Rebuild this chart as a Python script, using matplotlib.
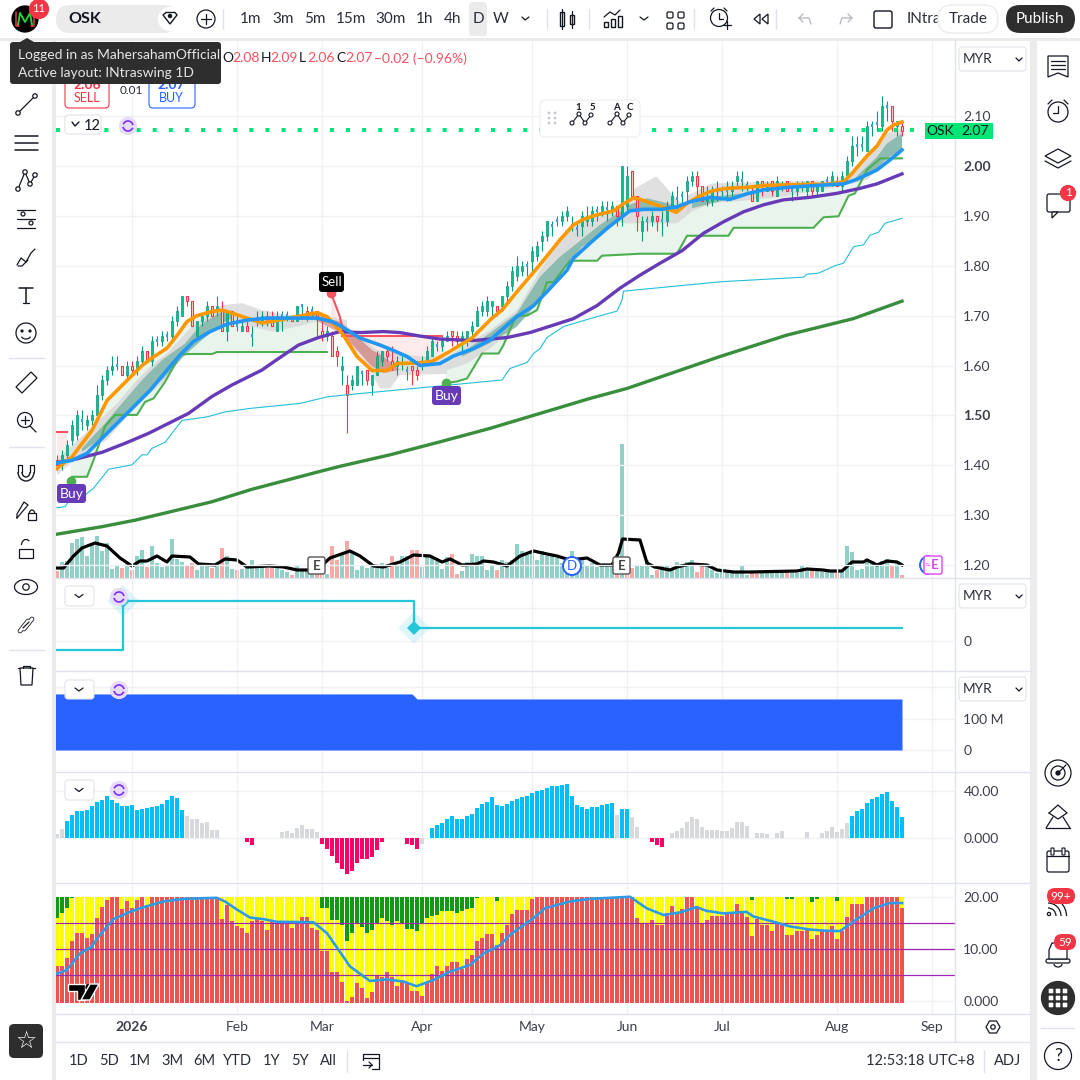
import matplotlib
matplotlib.use("Agg")
import matplotlib.pyplot as plt
from matplotlib.patches import FancyBboxPatch, Circle, Rectangle, Polygon, Arc
import numpy as np

plt.rcParams['font.family'] = ['Lato', 'DejaVu Sans']

# daily candles
opens = [1.41,1.40,1.42,1.45,1.46,1.49,1.48,1.49,1.50,1.54,
         1.57,1.59,1.60,1.60,1.58,1.60,1.59,1.61,1.63,1.61,
         1.65,1.65,1.66,1.66,1.69,1.70,1.74,1.73,1.66,1.69,
         1.70,1.72,1.71,1.71,1.67,1.71,1.68,1.67,1.68,1.66,
         1.69,1.69,1.70,1.69,1.67,1.70,1.70,1.70,1.69,1.72,
         1.71,1.71,1.71,1.67,1.66,1.66,1.63,1.59,1.56,1.56,
         1.56,1.585,1.59,1.56,1.58,1.61,1.63,1.61,1.60,1.605,
         1.59,1.60,1.59,1.60,1.61,1.62,1.64,1.64,1.65,1.67,
         1.66,1.65,1.65,1.67,1.68,1.71,1.71,1.72,1.72,1.72,
         1.74,1.76,1.78,1.79,1.80,1.81,1.82,1.85,1.86,1.88,
         1.89,1.89,1.90,1.88,1.875,1.88,1.89,1.89,1.91,1.91,
         1.915,1.91,1.92,1.90,1.92,1.99,1.94,1.87,1.89,1.89,
         1.90,1.89,1.89,1.91,1.935,1.94,1.95,1.97,1.98,1.96,
         1.93,1.93,1.95,1.95,1.95,1.95,1.97,1.97,1.96,1.95,
         1.93,1.97,1.95,1.97,1.94,1.96,1.97,1.95,1.95,1.96,
         1.95,1.97,1.95,1.95,1.97,1.97,1.97,1.96,1.98,2.01,
         2.04,2.04,2.03,2.08,2.085,2.08,2.12,2.12,2.08,2.08]
closes = [1.40,1.42,1.44,1.48,1.50,1.49,1.49,1.50,1.54,1.57,
          1.59,1.60,1.60,1.58,1.60,1.59,1.61,1.63,1.61,1.65,
          1.65,1.66,1.66,1.69,1.71,1.74,1.73,1.68,1.69,1.70,
          1.72,1.70,1.72,1.67,1.71,1.68,1.68,1.68,1.67,1.66,
          1.69,1.70,1.69,1.68,1.70,1.70,1.70,1.69,1.72,1.72,
          1.70,1.71,1.70,1.66,1.67,1.62,1.62,1.60,1.54,1.57,
          1.60,1.585,1.57,1.58,1.62,1.63,1.62,1.60,1.61,1.605,
          1.59,1.59,1.58,1.61,1.63,1.65,1.64,1.65,1.66,1.66,
          1.65,1.66,1.67,1.68,1.71,1.72,1.73,1.73,1.71,1.74,
          1.76,1.79,1.80,1.80,1.80,1.83,1.84,1.86,1.89,1.88,
          1.89,1.90,1.91,1.88,1.875,1.90,1.90,1.91,1.91,1.92,
          1.915,1.92,1.90,2.00,1.98,1.94,1.90,1.89,1.89,1.90,
          1.89,1.89,1.92,1.94,1.935,1.94,1.97,1.98,1.96,1.93,
          1.94,1.95,1.95,1.95,1.95,1.96,1.98,1.97,1.96,1.93,
          1.97,1.96,1.96,1.95,1.97,1.96,1.95,1.95,1.96,1.96,
          1.97,1.95,1.96,1.97,1.97,1.98,1.96,1.98,2.01,2.04,
          2.04,2.04,2.08,2.08,2.085,2.12,2.12,2.09,2.09,2.07]
highs = [1.42,1.43,1.45,1.49,1.51,1.51,1.50,1.51,1.56,1.58,
         1.60,1.62,1.62,1.60,1.61,1.61,1.62,1.64,1.63,1.66,
         1.66,1.67,1.67,1.70,1.72,1.74,1.74,1.73,1.69,1.70,
         1.73,1.72,1.74,1.73,1.71,1.71,1.70,1.69,1.69,1.68,
         1.71,1.71,1.71,1.71,1.71,1.71,1.71,1.70,1.72,1.72,
         1.72,1.72,1.71,1.70,1.68,1.67,1.64,1.62,1.58,1.58,
         1.60,1.59,1.59,1.58,1.63,1.63,1.64,1.64,1.62,1.62,
         1.60,1.60,1.60,1.62,1.64,1.66,1.65,1.66,1.67,1.67,
         1.67,1.67,1.67,1.69,1.72,1.73,1.74,1.73,1.72,1.74,
         1.77,1.80,1.82,1.81,1.81,1.84,1.85,1.87,1.89,1.89,
         1.90,1.91,1.92,1.90,1.89,1.91,1.92,1.92,1.92,1.93,
         1.93,1.93,1.92,2.00,2.00,1.99,1.94,1.90,1.90,1.91,
         1.90,1.91,1.93,1.95,1.96,1.95,1.98,1.99,1.99,1.96,
         1.96,1.96,1.97,1.96,1.97,1.97,1.99,1.99,1.97,1.96,
         1.97,1.97,1.97,1.97,1.98,1.97,1.97,1.96,1.97,1.97,
         1.97,1.97,1.96,1.97,1.98,1.99,1.98,1.99,2.02,2.06,
         2.06,2.06,2.09,2.09,2.11,2.14,2.13,2.12,2.09,2.09]
lows = [1.39,1.39,1.41,1.44,1.45,1.47,1.47,1.48,1.50,1.53,
        1.56,1.58,1.59,1.58,1.57,1.58,1.58,1.60,1.61,1.60,
        1.64,1.64,1.65,1.65,1.68,1.70,1.72,1.68,1.66,1.68,
        1.69,1.70,1.70,1.67,1.65,1.68,1.67,1.67,1.67,1.64,
        1.68,1.68,1.68,1.68,1.67,1.67,1.69,1.69,1.69,1.70,
        1.69,1.70,1.66,1.65,1.65,1.62,1.60,1.56,1.465,1.55,
        1.56,1.56,1.56,1.54,1.58,1.60,1.61,1.59,1.58,1.59,
        1.57,1.56,1.57,1.59,1.61,1.62,1.63,1.63,1.65,1.64,
        1.64,1.63,1.64,1.66,1.68,1.70,1.70,1.70,1.70,1.71,
        1.73,1.75,1.77,1.78,1.78,1.79,1.81,1.83,1.85,1.86,
        1.88,1.88,1.89,1.87,1.86,1.86,1.88,1.88,1.89,1.90,
        1.89,1.90,1.88,1.88,1.91,1.94,1.87,1.85,1.87,1.88,
        1.87,1.86,1.88,1.91,1.91,1.92,1.93,1.96,1.94,1.93,
        1.92,1.92,1.93,1.94,1.93,1.94,1.96,1.95,1.95,1.93,
        1.93,1.94,1.95,1.94,1.94,1.95,1.95,1.93,1.94,1.95,
        1.94,1.94,1.94,1.95,1.96,1.96,1.96,1.95,1.97,2.00,
        2.02,2.03,2.03,2.06,2.07,2.07,2.09,2.07,2.06,2.06]

volumes = [7,16,17,35,39,41,22,33,42,27,35,9,13,10,15,8,22,28,11,32,
           15,11,13,39,19,16,13,15,8,12,13,10,14,30,22,9,8,9,10,18,
           11,11,10,12,10,8,6,3,13,8,7,5,5,5,4,32,18,24,37,25,
           8,12,10,12,13,15,10,22,12,22,22,28,28,11,21,21,17,9,21,24,
           4,7,16,24,22,22,8,12,8,18,16,18,34,27,23,28,18,27,22,22,
           20,15,8,27,17,20,13,15,11,12,12,12,8,134,7,10,12,13,18,3,
           8,12,12,8,16,12,16,18,6,14,12,8,5,7,7,5,7,12,3,5,
           7,6,8,5,7,6,6,5,5,12,7,8,8,6,7,8,6,8,32,26,
           8,9,19,17,12,17,19,13,14,3]
vol_down = [0,13,15,18,26,27,31,33,36,42,43,47,52,53,55,56,58,67,71,72,79,80,88,
            112,114,115,120,128,129,139,140,146,151,156,167,169]
vol_ma_x = [0,1.3,3.3,5,7.6,10,12.6,15,16.6,18,20,22,23,26.6,28.3,31.6,33.6,36,38,42.6,
            45.3,48,50,52,54.6,58.6,60.6,63.3,65.3,68.6,71.3,74.6,77,78.6,81,84,85.3,87.3,
            90,92.6,95.3,98,100,102.6,106,108.6,111,112.3,113.1,116.6,118,119.5,122.6,124,
            126.6,130,132,135.3,138.6,148,150,153.2,154.6,157,159,161.3,162,164,166,168,169]
vol_ma_y = [10,10,22,30,35,32,20,12,17,17,22,16,22,21,14,13,19,18,11,12,
            11,8,8,8,20,27,22,12,11,16,23,22,16,19,13,14,17,16,
            12,22,27,24,22,18,20,13,13,25,39,38,15,11,8,11,
            14,13,8,6,6,7,9,8,7,7,16,16,18,13,17,16,13]

# moving averages, vertices as (bar, price)
orange_x = [0,3,7,10,12,15,17,19,22,24,26,28,31,33,35,38,41,45,49,52,54,57,60,63,66,68,72,75,78,
            83,87,89,92,96,97.3,100.6,103.3,105.3,108,111.3,113.3,115.3,116.6,121,123.9,126,128.6,
            131,134,138,142,146,150,154,157.3,159,162,164,166,167.3,169]
orange_y = [1.394,1.417,1.47,1.53,1.55,1.58,1.60,1.615,1.635,1.66,1.688,1.70,1.708,1.711,1.705,1.695,
            1.685,1.692,1.70,1.706,1.698,1.665,1.618,1.59,1.59,1.604,1.605,1.608,1.625,
            1.655,1.695,1.711,1.748,1.795,1.811,1.852,1.882,1.893,1.902,1.91,1.924,1.936,1.933,1.918,1.907,
            1.925,1.94,1.95,1.955,1.957,1.961,1.962,1.963,1.963,1.968,1.985,2.02,2.04,2.072,2.082,2.088]
blue_x = [0,3,6,9.3,12.6,16,18.6,22,24.6,27.3,30.6,34,38,42,52,55,56.6,60.6,64.6,67.3,70,72.6,76.6,
          79.3,83.3,86.6,92,95.3,98,102,103.3,106.6,110,112.6,114.6,117.3,121,124,126.6,130.6,134.6,
          138,141.3,146,150.6,157.3,160,164,166.6,169]
blue_y = [1.405,1.41,1.424,1.457,1.49,1.524,1.55,1.591,1.621,1.648,1.668,1.683,1.691,1.695,1.695,1.688,
          1.68,1.655,1.641,1.63,1.618,1.60,1.604,1.619,1.634,1.651,1.698,1.72,1.748,1.791,1.815,1.845,
          1.875,1.895,1.91,1.913,1.913,1.918,1.928,1.937,1.933,1.944,1.952,1.957,1.96,1.964,1.973,
          1.992,2.012,2.032]
purple_x = [0,4,9,13.6,18.3,22.3,26.3,31,35,41,44.3,48.3,52.3,56.6,60.6,65.3,68.6,72.6,76.6,83.3,90,
            94.6,99.3,103.3,108,112.6,116.6,120.6,125,129.3,133.3,137.3,141.3,145.3,150.6,156,160.6,164,169]
purple_y = [1.405,1.413,1.426,1.444,1.464,1.484,1.504,1.538,1.561,1.591,1.614,1.641,1.656,1.668,1.666,
            1.668,1.666,1.659,1.653,1.65,1.656,1.666,1.681,1.694,1.72,1.755,1.781,1.805,1.83,1.865,
            1.888,1.908,1.922,1.932,1.937,1.945,1.955,1.964,1.984]
ma200_x = [0,9,15.6,22.3,31,39,47,52.3,56.6,66.6,76.6,86.6,96.6,106.6,114,132.6,146,159.3,169]
ma200_y = [1.262,1.277,1.29,1.306,1.327,1.352,1.373,1.387,1.398,1.421,1.447,1.474,1.504,1.534,1.554,
           1.618,1.661,1.694,1.729]
trail_x = [0,1.6,3,5.3,7.3,10.3,15,17,18,19,21.6,25,30,33.6,38.6,48.6,54,56.6,76.6,89,90.6,94,95.3,
           96.6,98,101.3,108,112,113,113.3,133,149.3,150,152.3,155.6,157.3,159.3,161.3,162.6,164.3,165.6,169]
trail_y = [1.315,1.317,1.337,1.338,1.354,1.392,1.401,1.421,1.421,1.434,1.446,1.49,1.497,1.507,1.514,
           1.524,1.537,1.54,1.559,1.571,1.594,1.606,1.624,1.634,1.656,1.678,1.698,1.709,1.731,1.749,
           1.768,1.777,1.783,1.785,1.80,1.805,1.838,1.842,1.861,1.867,1.885,1.895]

# supertrend style stop, two bullish runs
stop1_x = [2.6,3,6,7.3,9.6,11.6,16,17.6,19.3,21.6,24.6,26,31,32,54]
stop1_y = [1.37,1.377,1.377,1.41,1.478,1.501,1.501,1.527,1.534,1.567,1.621,1.623,1.623,1.627,1.627]
stop2_x = [77.8,80,82,85,88.3,89.3,91.3,92,94,96,98,99.3,102.6,108,109,116.6,124,126,134.3,135.3,151.3,
           153.3,156.3,158.3,159.6,162,164.7,169]
stop2_y = [1.565,1.568,1.574,1.624,1.624,1.641,1.688,1.70,1.70,1.711,1.767,1.767,1.81,1.81,1.82,1.824,
           1.824,1.86,1.86,1.876,1.876,1.897,1.899,1.94,1.945,1.992,2.015,2.015]
stop_red_x = [57,77]
stop_red_y = [1.66,1.66]
stop_red0_x = [0,2]
stop_red0_y = [1.467,1.467]
sell_x = [54.8,56.5,57.5]
sell_y = [1.745,1.70,1.66]

# cloud bands, (bars, upper, bars, lower)
grey_bands = [
    ([0,7,12,16,19,22,27,33,37,41,46,52,58], [1.411,1.477,1.524,1.571,1.601,1.624,1.678,1.721,1.725,1.711,1.701,1.704,1.691],
     [0,5,10,14,17,21,26,30,34,39,43,48,53,58], [1.38,1.424,1.451,1.497,1.531,1.564,1.628,1.671,1.691,1.678,1.668,1.678,1.691,1.66]),
    ([56.6,60.6,64,72.6,78], [1.69,1.658,1.631,1.618,1.618],
     [56.6,60.6,64.6,66.6,68.6,78], [1.678,1.624,1.554,1.554,1.581,1.583]),
    ([78,86.6,92,99,102.6,106,110,113.6,115.6,119.6,120,124,126.6], [1.618,1.671,1.711,1.831,1.872,1.892,1.908,1.918,1.955,1.978,1.978,1.932,1.92],
     [78,82,86.6,91.3,96,100,103.3,105.3,109.3,112.6,113,121,124,126.6], [1.591,1.604,1.634,1.674,1.724,1.778,1.818,1.838,1.872,1.888,1.885,1.885,1.885,1.905]),
    ([126,131,157], [1.94,1.965,1.972], [126,131,137,145,157], [1.905,1.925,1.93,1.938,1.96]),
    ([157,162,166,169], [1.965,2.025,2.065,2.075], [157,162,165.3,169], [1.96,1.972,2.005,2.035]),
]
teal_bands = [
    ([5,9.6,13,17,21,25.6,29,33,35], [1.434,1.484,1.524,1.571,1.611,1.644,1.684,1.708,1.71],
     [5,9.6,13,17,21,25.6,29,33,35], [1.427,1.46,1.49,1.538,1.571,1.621,1.651,1.684,1.695]),
    ([81,86.6,92,96.6,100.6,104,108.6,113], [1.625,1.665,1.705,1.778,1.818,1.845,1.882,1.91],
     [81,86.6,92,96.6,100.6,105,108.6,113], [1.618,1.645,1.678,1.731,1.785,1.838,1.858,1.895]),
    ([114,118,121,124], [1.92,1.935,1.928,1.92], [114,118,124], [1.91,1.912,1.91]),
    ([127,133,137], [1.925,1.94,1.945], [127,133,137], [1.915,1.93,1.94]),
    ([159,164,166,169], [1.97,2.018,2.045,2.065], [159,164,166,169], [1.968,1.995,2.015,2.033]),
]
red_band = ([50,56.6,60,63,65.3], [1.705,1.688,1.658,1.631,1.618],
            [50,56.6,60,63,65.3,68.6], [1.70,1.665,1.631,1.598,1.585,1.591])

hist_values = [3.7,8,14.2,19.3,22.7,22.7,23.5,27,30.6,32.6,
               35.7,32,30,27,27,28.4,23.5,24.4,25.5,26.4,
               27,29,32,35.5,34.3,23.5,18.4,15.9,15.9,12.8,
               13.6,6.5,6.5,0,0,0,0,0,-3.4,-6.2,
               0,0,0,0,0,5.1,5.7,4,8.5,10.8,
               7.4,7.4,5.1,-4.8,-9.6,-15.6,-21.3,-26,-31,-28.4,
               -21.3,-18.2,-17.6,-16.2,-10.5,-3.4,0,0,0,0,
               -4.8,-6.2,-9.6,-4.8,0,8.8,10.8,13,15.9,18.4,
               15.9,16.5,18.4,20.7,25.8,29,31,34.6,27.8,27,
               28.6,31.2,33,34.6,35.5,38,39.7,40.6,42.3,44,
               44,44.8,45.7,35.5,27.8,26,25,26,26,27.8,
               28.6,29.5,20,25,24.4,17.6,9,0,0,-3.7,
               -6.2,-8,0,4,5.7,8.2,13.3,17.6,15.9,9,
               6.5,6.5,6.5,5.7,5.7,8.2,13.3,13.3,9.9,0,
               4,4,3.1,0,4,5.7,0,0,0,0,
               4.8,0,0,4,5.7,9,4.8,7.4,12.5,18.4,
               22.7,25,29.5,33,34.6,37.2,38.9,31.2,26,17.6]
hist_kind = ("gg" + "b"*24 + "g"*7 + "g"*5 + "rr" + "g"*5 + "g"*8 + "r"*13 + "g"*4 + "rrr" + "gg"
             + "b"*37 + "g" + "bb" + "gg" + "gg" + "rrr" + "g" + "g"*36 + "b"*11)

stack_red = [6.7,6.7,8.4,11.6,13.1,13.1,12.2,12.9,16.0,18.1,
             19.5,20.1,20.1,17.8,19.2,18.0,19.5,20.1,18.5,20.1,
             20.1,20.1,20.1,20.1,20.1,20.1,20.1,20.1,20.1,20.1,
             20.1,20.1,20.1,15.8,18.5,15.4,14.5,14.0,13.1,15.4,
             16.0,15.4,13.7,15.4,15.4,15.4,15.4,14.0,15.4,16.2,
             16.2,14.0,13.7,9.6,9.6,5.7,5.7,3.7,0.0,0.9,
             3.5,2.5,0.7,1.7,5.1,4.6,5.7,4.6,3.0,3.7,
             3.7,2.0,2.0,1.1,3.7,5.3,6.8,5.8,6.7,7.6,
             7.6,6.3,8.1,8.9,11.5,12.2,12.9,12.9,10.8,13.1,
             14.7,16.8,17.6,17.6,17.6,19.7,20.1,20.1,20.1,20.1,
             20.1,20.1,20.1,20.1,20.1,20.1,20.1,20.1,20.1,20.1,
             20.1,20.1,20.1,20.1,20.1,20.1,16.0,15.0,15.0,15.6,
             14.7,14.7,16.9,18.3,16.9,17.8,20.1,20.1,18.3,15.0,
             15.6,16.4,16.4,16.4,16.9,17.1,18.7,17.2,16.2,12.6,
             15.8,14.7,14.7,13.5,15.0,15.0,12.8,12.8,13.5,13.5,
             14.0,12.0,12.8,13.5,13.5,14.5,12.0,13.5,16.2,18.7,
             18.7,18.7,20.1,20.1,20.1,20.1,20.1,20.1,20.1,17.9]
stack_green_bar = [0,1,2,3,53,54,55,56,57,58,59,60,61,62,63,64,65,66,67,68,69,70,71,72,73,74,75,76,77,78,79,
                   80,81,82,83,84,88,139,146,147,151,152,156]
stack_green_low = [16.0,16.9,17.9,19.9,17.9,17.9,15.6,15.6,14.6,11.6,13.2,14.9,14.2,13.2,13.7,15.0,16.0,15.4,
                   14.6,15.4,15.0,14.0,14.0,13.6,15.0,16.0,16.5,16.6,17.4,17.4,17.4,16.9,17.4,17.7,17.9,19.8,
                   19.3,19.5,19.7,19.7,19.1,19.7,19.3]
stack_line_x = [0,1.9,4.6,6.9,8.6,11.3,14.6,17.3,21.3,25.3,31.9,33.6,35.9,38.6,41.3,43.9,51.3,54,56.3,58.6,
                62.6,65.9,69.3,71.9,75.3,78.6,82.6,85.3,88.6,90.6,95.3,97.6,102.6,106.6,114.6,117.9,121.3,
                124.6,127.9,129.9,133.3,137.9,139.3,143.3,146.6,150.6,153.3,156.6,160,163.3,166.6,169]
stack_line_y = [5.3,6.0,9.2,10.5,12.8,15.8,17.2,18.1,19.2,19.7,19.9,19.2,17.7,16.1,15.8,15.3,15.2,13.1,9.9,6.7,
                3.9,4.2,3.8,2.9,4.1,5.7,7.0,9.2,10.8,12.8,16.0,17.9,19.2,19.7,20.1,17.9,16.6,
                17.1,18.1,17.4,16.9,17.2,16.3,15.3,14.4,13.8,13.6,13.5,15.8,17.9,18.9,18.9]
pivot_x = [-0.5,13.2,13.2,71.4,71.4,169]
pivot_y = [-1,-1,4.44,4.44,1.44,1.44]
float_x = [-0.5,71,72,169]
float_m = [178,178,162,162]

price_ticks = [1.20,1.30,1.40,1.50,1.60,1.70,1.80,1.90,2.00,2.10]
month_bars = [15,36,53,73,95,114,133,156,175]
month_names = ['2026','Feb','Mar','Apr','May','Jun','Jul','Aug','Sep']

GRID = '#f0f1f5'
LINE = '#e0e3eb'
TXT = '#131722'
UP = '#00c389'
UPE = '#089981'
DN = '#f23645'

fig = plt.figure(figsize=(10.8, 10.8), dpi=100, facecolor='white')

def pane(y0, y1, ylim):
    a = fig.add_axes([56/1080, 1-y1/1080, (955-56)/1080, (y1-y0)/1080])
    a.set_xlim(-0.2, 179.6)
    a.set_ylim(*ylim)
    a.set_xticks(month_bars)
    a.set_xticklabels([])
    a.grid(True, color=GRID, lw=1)
    a.set_axisbelow(True)
    a.tick_params(length=0, labelsize=10, labelcolor='#3c3f4a', pad=6)
    a.yaxis.tick_right()
    for s in a.spines.values():
        s.set_visible(False)
    return a

# main pane
vax = pane(40, 578, (0, 538))
vax.set_yticks([])
vax.grid(False)
ax = pane(40, 578, (2.10-(578-116)/499, 2.10-(40-116)/499))
ax.patch.set_visible(False)
ax.set_yticks(price_ticks)
ax.set_yticklabels(['%.2f' % p for p in price_ticks])
for lab, p in zip(ax.get_yticklabels(), price_ticks):
    if p in (1.50, 2.00):
        lab.set_fontweight('bold')

bars = np.arange(len(closes))
vol_col = ['#f7a9a7' if i in vol_down else '#92d0c7' for i in bars]
vax.bar(bars, volumes, width=0.8, color=vol_col, lw=0)
vax.plot(vol_ma_x, vol_ma_y, color='black', lw=2.3, zorder=5)

def band(a, xu, yu, xl, yl, color, alpha=1.0, z=1):
    a.fill(list(xu)+list(xl)[::-1], list(yu)+list(yl)[::-1], color=color, alpha=alpha, lw=0, zorder=z)

cut1 = [i for i, x in enumerate(orange_x) if x <= 54]
cut2 = [i for i, x in enumerate(orange_x) if x >= 78]
band(ax, [orange_x[i] for i in cut1 if orange_x[i] >= 3], [orange_y[i] for i in cut1 if orange_x[i] >= 3],
     stop1_x, stop1_y, '#e9f4ec')
band(ax, [orange_x[i] for i in cut2], [orange_y[i] for i in cut2], stop2_x, stop2_y, '#e9f4ec')
mid = [i for i, x in enumerate(orange_x) if 57 <= x <= 78]
band(ax, stop_red_x, stop_red_y, [orange_x[i] for i in mid], [orange_y[i] for i in mid], '#fdeaea')
band(ax, [54.8, 57], [1.745, 1.66], [54.8, 57], [1.70, 1.665], '#fdeaea')
band(ax, stop_red0_x, stop_red0_y, [0, 2], [1.39, 1.41], '#fdeaea')
for xu, yu, xl, yl in grey_bands:
    band(ax, xu, yu, xl, yl, '#d5d5d5', 0.72, 2)
for xu, yu, xl, yl in teal_bands:
    band(ax, xu, yu, xl, yl, '#6fae9f', 0.72, 3)
band(ax, *red_band, '#cf6f6a', 0.6, 3)

# candles
for i in bars:
    o, h, l, c = opens[i], highs[i], lows[i], closes[i]
    if o == c:
        ax.vlines(i, l, h, color=UPE, lw=0.8, zorder=4)
        ax.bar(i, 0.006, bottom=o-0.003, width=0.55, color='#3d9fd3', lw=0, zorder=4)
    elif c > o:
        ax.vlines(i, l, h, color=UPE, lw=0.8, zorder=4)
        ax.bar(i, c-o, bottom=o, width=0.55, color=UP, edgecolor=UPE, lw=0.5, zorder=4)
    else:
        ax.vlines(i, l, h, color=DN, lw=0.8, zorder=4)
        ax.bar(i, o-c, bottom=c, width=0.55, color='#fbd5d3', edgecolor=DN, lw=0.8, zorder=4)

ax.plot([-0.2, 173.6], [2.072, 2.072], color='#00e676', lw=2.9, ls=(0, (1, 3)), zorder=5)
ax.plot(stop1_x, stop1_y, color='#4caf50', lw=1.5, zorder=6)
ax.plot(stop2_x, stop2_y, color='#4caf50', lw=1.5, zorder=6)
ax.plot(stop_red_x, stop_red_y, color='#f7525f', lw=1.5, zorder=6)
ax.plot(stop_red0_x, stop_red0_y, color='#f7525f', lw=1.5, zorder=6)
ax.plot(sell_x, sell_y, color='#f7525f', lw=1.5, zorder=6)
ax.plot(trail_x, trail_y, color='#22c0d8', lw=0.8, zorder=6)
ax.plot(ma200_x, ma200_y, color='#388e3c', lw=2.4, zorder=6)
ax.plot(purple_x, purple_y, color='#673ab7', lw=2.4, zorder=7)
ax.plot(orange_x, orange_y, color='#ff9800', lw=2.6, zorder=8)
ax.plot(blue_x, blue_y, color='#2196f3', lw=2.6, zorder=9)
ax.plot([2.8, 77.8], [1.368, 1.565], ls='none', marker='o', ms=6, color='#4caf50', zorder=10)
ax.plot([54.8], [1.745], ls='none', marker='o', ms=6, color='#f7525f', zorder=10)

# pivot pane
p2 = pane(579, 671, (-30/9, 62/9))
p2.set_yticks([0, 3.67])
p2.set_yticklabels(['0', ''])
p2.plot(pivot_x, pivot_y, color='#26c6da', lw=1.6)
p2.plot([13.2, 71.4], [4.44, 1.44], ls='none', marker='D', ms=16, color='#26c6da', alpha=0.15, mew=0)
p2.plot([13.2, 71.4], [4.44, 1.44], ls='none', marker='D', ms=7, color='#26c6da', mew=0)

# float pane
p3 = pane(672, 772, ((750-772)*100/31.5, (750-672)*100/31.5))
p3.set_yticks([0, 100, 200])
p3.set_yticklabels(['0', '100 M', ''])
p3.fill_between(float_x, 0, float_m, color='#2962ff', lw=0, zorder=3)

# momentum pane
p4 = pane(773, 883, ((838-883)*40/47, (838-773)*40/47))
p4.set_yticks([0, 40])
p4.set_yticklabels(['0.000', '40.00'])
col_map = {'b': '#00bfff', 'g': '#d8d9dd', 'r': '#ff0066'}
p4.bar(bars, hist_values, width=0.8, color=[col_map[k] for k in hist_kind], lw=0, zorder=3)

# stacked pane
p5 = pane(884, 1014, ((1001.3-1014)/5.2, (1001.3-884)/5.2))
p5.set_yticks([0, 10, 20])
p5.set_yticklabels(['0.000', '10.00', '20.00'])
floor_v = -0.3
p5.bar(bars, [20.1-floor_v]*len(bars), bottom=floor_v, width=0.8, color='#ffff00', lw=0, zorder=2)
p5.bar(stack_green_bar, [20.1-v for v in stack_green_low], bottom=stack_green_low, width=0.8,
       color='#119911', lw=0, zorder=3)
p5.bar(bars, [v-floor_v for v in stack_red], bottom=floor_v, width=0.8, color='#ef5350', lw=0, zorder=3)
for lvl in (5, 10, 15):
    p5.axhline(lvl, color='#9c27b0', lw=0.9, zorder=4)
p5.plot(stack_line_x, stack_line_y, color='#2e9be6', lw=1.9, zorder=5)
p5.set_xticklabels(month_names)
p5.tick_params(axis='x', pad=5)
p5.get_xticklabels()[0].set_fontweight('bold')

# window chrome in pixel coordinates
ui = fig.add_axes([0, 0, 1, 1], zorder=20)
ui.set_xlim(0, 1080)
ui.set_ylim(1080, 0)
ui.axis('off')
ui.patch.set_visible(False)

def rect(x0, y0, x1, y1, fc, ec='none', lw=0, r=0, z=2):
    if r:
        ui.add_patch(FancyBboxPatch((x0, y0), x1-x0, y1-y0, boxstyle='round,pad=0,rounding_size=%g' % r,
                                    fc=fc, ec=ec, lw=lw, zorder=z))
    else:
        ui.add_patch(Rectangle((x0, y0), x1-x0, y1-y0, fc=fc, ec=ec, lw=lw, zorder=z))

def seg(xs, ys, c=TXT, lw=0.9, z=3):
    ui.plot(xs, ys, color=c, lw=lw, zorder=z, solid_capstyle='round')

def ring(x, y, r, ec=TXT, fc='none', lw=0.9, z=3):
    ui.add_patch(Circle((x, y), r, fc=fc, ec=ec, lw=lw, zorder=z))

def txt(x, y, s, size=10, c=TXT, ha='center', w='normal', z=4):
    ui.text(x, y, s, fontsize=size, color=c, ha=ha, va='center', fontweight=w, zorder=z)

BAND = '#ebebeb'
rect(0, 0, 1080, 38, 'white')
rect(0, 38, 1080, 41, BAND)
rect(0, 41, 52, 1080, 'white')
rect(52, 38, 56, 1080, BAND)
rect(1030, 38, 1037, 1080, BAND)
rect(1037, 41, 1080, 1080, 'white')
rect(56, 1043, 1030, 1080, 'white')
for yy in (578, 671, 772, 883, 1014, 1042):
    seg([56, 1030], [yy, yy], LINE, 1, 3)
seg([955, 955], [40, 1042], LINE, 1, 3)

# top bar
ring(25, 19, 13, 'black', 'black', z=5)
seg([18, 20, 25, 30, 32], [25, 13, 22, 13, 25], '#25d03a', 1.4, 6)
seg([16, 16, 19], [12, 26, 26], '#f23645', 1.1, 6)
seg([34, 34, 31], [12, 26, 26], '#f23645', 1.1, 6)
ring(39, 9, 9.5, '#f23645', '#f23645', z=7)
txt(39, 8.5, '11', 8, 'white', z=8)
rect(56, 5, 178, 33, BAND, r=14)
txt(68, 19, 'OSK', 11.5, TXT, ha='left', w='bold')
ring(170, 19, 11.5, 'white', 'white')
ui.add_patch(Polygon([[163, 15], [166, 12.5], [175, 12.5], [177, 15], [170, 24]], closed=True, fc='white', ec=TXT, lw=1, zorder=5))
ring(170, 16, 1.6, TXT, TXT, z=6)
ring(206, 19, 9, TXT)
seg([201, 211], [19, 19])
seg([206, 206], [14, 24])
seg([223, 223], [9, 29], LINE, 1)
rect(469, 2, 487, 36, BAND, r=4)
for xx, lab in zip([251, 283, 315, 351, 391, 425, 453, 478, 501], ['1m', '3m', '5m', '15m', '30m', '1h', '4h', 'D', 'W']):
    txt(xx, 19, lab, 11, '#2a2e39')
seg([522, 525, 529], [17, 20, 17], TXT, 0.9)
seg([547, 547], [9, 29], LINE, 1)
rect(560, 12, 564, 26, 'none', TXT, 1)
rect(570, 15, 574, 24, 'none', TXT, 1)
seg([562, 562], [9, 29])
seg([572, 572], [11, 28])
seg([589, 589], [9, 29], LINE, 1)
seg([604, 610, 615, 620], [17, 12, 15, 10])
rect(604, 22, 608, 27, 'none', TXT, 1)
rect(611, 19, 615, 27, 'none', TXT, 1)
rect(618, 16, 622, 27, 'none', TXT, 1)
seg([640, 644, 648], [17, 20, 17])
for gx in (667, 678):
    for gy in (12, 23):
        rect(gx, gy, gx+6, gy+6, 'none', TXT, 0.9, r=1.5)
seg([694, 694], [9, 29], LINE, 1)
ring(719, 18, 8.5)
seg([719, 719, 723], [13, 19, 19])
seg([711, 714], [11, 8])
seg([724, 727], [8, 11])
seg([723, 731], [25, 25])
seg([727, 727], [21, 29])
ui.add_patch(Polygon([[754, 19], [760, 14], [760, 24]], closed=True, fc='white', ec=TXT, lw=0.9, zorder=3))
ui.add_patch(Polygon([[762, 19], [768, 14], [768, 24]], closed=True, fc='white', ec=TXT, lw=0.9, zorder=3))
seg([776, 776], [9, 29], LINE, 1)
seg([803, 799, 803], [14, 18, 22], '#b2b5be')
seg([799, 809, 811], [18, 18, 24], '#b2b5be')
seg([848, 852, 848], [14, 18, 22], '#b2b5be')
seg([852, 842, 840], [18, 18, 24], '#b2b5be')
rect(874, 11, 892, 28, 'none', TXT, 1, r=2)
txt(907, 19, 'INtra', 11, '#2a2e39', ha='left')
rect(938, 5, 998, 33, 'white', '#ebebeb', 1, r=14, z=5)
txt(968, 19, 'Trade', 11, '#2a2e39', z=6)
rect(1006, 5, 1075, 33, '#2e2e2e', r=14)
txt(1040, 19, 'Publish', 11, 'white')

# legend line and trade box
rect(65, 78, 109, 108, 'white', DN, 0.8, r=4, z=5)
rect(149, 78, 195, 108, 'white', '#2962ff', 0.8, r=4, z=5)
txt(87, 85, '2.06', 10, DN, w='bold', z=6)
txt(87, 98, 'SELL', 9, DN, z=6)
txt(171, 85, '2.07', 10, '#2962ff', w='bold', z=6)
txt(171, 98, 'BUY', 9, '#2962ff', z=6)
txt(131, 90, '0.01', 8.5, '#2a2e39', z=6)
rect(10, 42, 221, 84, '#2e2e2e', r=3, z=8)
ui.add_patch(Polygon([[20, 42], [27, 38], [34, 42]], closed=True, fc='#2e2e2e', ec='none', zorder=8))
txt(18, 55, 'Logged in as MahersahamOfficial', 10, '#e6e6e6', ha='left', z=9)
txt(18, 73, 'Active layout: INtraswing 1D', 10, '#e6e6e6', ha='left', z=9)
red_txt = '#f7525f'
for xx, s, c in [(222, 'O', TXT), (232, '2.08', red_txt), (261, 'H', TXT), (270, '2.09', red_txt), (299, 'L', TXT),
                 (307, '2.06', red_txt), (336, 'C', TXT), (345, '2.07', red_txt), (374, '\u22120.02 (\u22120.96%)', red_txt)]:
    txt(xx, 58.5, s, 10, c, ha='left')

def dropdown(y0, y1):
    rect(65, y0, 94, y1, 'white', LINE, 0.8, r=3, z=5)
    seg([75, 79, 83], [(y0+y1)/2-1.5, (y0+y1)/2+1.5, (y0+y1)/2-1.5], TXT, 0.9, 6)

def sync(x, y):
    ring(x, y, 8.5, '#e6dcfa', '#e6dcfa', z=5)
    ui.add_patch(Arc((x, y), 10, 10, theta1=20, theta2=170, ec='#7b2ff7', lw=1.2, zorder=6))
    ui.add_patch(Arc((x, y), 10, 10, theta1=200, theta2=350, ec='#7b2ff7', lw=1.2, zorder=6))

rect(65, 115, 101, 134, 'white', LINE, 0.8, r=3, z=5)
seg([72, 75, 79], [122, 126, 122], TXT, 1, 6)
txt(92, 126, '12', 10.5, TXT, z=6)
sync(128, 126)
dropdown(586, 606)
sync(119, 597)
dropdown(680, 699)
sync(119, 690)
dropdown(780, 800)
sync(119, 790)

for yy in (47, 584, 677):
    rect(959, yy, 1026, yy+24, 'white', LINE, 0.8, r=3, z=5)
    txt(963, yy+12, 'MYR', 9.8, '#2a2e39', ha='left', z=6)
    seg([1016, 1019, 1022], [yy+11, yy+14, yy+11], TXT, 0.9, 6)

# floating wave toolbar
rect(540, 100, 640, 137, 'white', '#eeeeee', 0.8, r=5, z=5)
for dx in (549, 555):
    for dy in (113, 118, 123):
        ring(dx, dy, 0.8, '#c9cbd3', '#c9cbd3', z=6)
for x0, a, b in [(570, '1', '5'), (608, 'A', 'C')]:
    seg([x0+2, x0+9, x0+15, x0+21], [123, 114, 123, 115], TXT, 0.8, 6)
    for px_, py_ in [(x0+2, 123), (x0+9, 114), (x0+15, 123), (x0+21, 115)]:
        ring(px_, py_, 2, TXT, 'white', 0.8, 7)
    txt(x0+8, 108, a, 7, TXT, w='bold', z=6)
    txt(x0+22, 108, b, 7, TXT, w='bold', z=6)

# price tag
rect(925, 123, 993, 139, '#00e676', z=5)
txt(940, 131, 'OSK', 10, TXT, z=6)
txt(975, 131, '2.07', 10, TXT, z=6)

# signals
rect(319, 272, 344, 292, 'black', r=3, z=5)
txt(331.5, 282, 'Sell', 9.5, 'white', z=6)
rect(57, 484, 86, 503, '#673ab7', r=3, z=5)
txt(71.5, 494, 'Buy', 10, 'white', z=6)
rect(432, 386, 461, 405, '#673ab7', r=3, z=5)
txt(446.5, 396, 'Buy', 10, 'white', z=6)

# event badges
for ex in (316, 621):
    rect(ex-8, 557, ex+9, 574, 'white', '#555555', 1, r=2, z=5)
    txt(ex+0.5, 565.5, 'E', 9.5, '#444444', w='bold', z=6)
ring(572, 566, 9, '#2962ff', 'white', 1.4, z=5)
txt(572, 566, 'D', 9.5, '#2962ff', z=6)
ui.add_patch(Arc((929, 565), 18, 18, theta1=90, theta2=270, ec='#2962ff', lw=1.4, zorder=5))
rect(924, 556, 942, 574, 'white', '#e040fb', 1, r=2, z=6)
txt(935, 565, 'E', 9.5, '#e040fb', w='bold', z=7)
txt(927, 565, '\u2248', 7, '#e040fb', z=7)

# tv logo
ui.add_patch(Polygon([[68, 984], [85, 984], [85, 1000], [77, 1000], [77, 991], [68, 991]], closed=True, fc='black', ec='white', lw=1, zorder=5))
ring(89, 987.5, 3, 'black', 'black', z=5)
ui.add_patch(Polygon([[90, 984], [99, 984], [90, 1000], [81, 1000]], closed=True, fc='black', ec='white', lw=1, zorder=5))

# left toolbar
seg([19, 34], [112, 97])
ring(18, 113, 2.2, fc='white')
ring(35, 96, 2.2, fc='white')
for yy in (136, 143, 150):
    seg([15, 38], [yy, yy], lw=1.1)
seg([18, 25, 30, 35], [189, 172, 184, 175])
for px_, py_ in [(18, 189), (25, 172), (30, 184), (35, 175)]:
    ring(px_, py_, 2.2, fc='white')
seg([17, 35], [210, 210])
seg([17, 35], [219, 219])
seg([17, 35], [228, 228])
ring(23, 214, 2, fc='white')
ring(31, 223, 2, fc='white')
seg([17, 21, 26, 31, 35], [265, 258, 262, 253, 249])
seg([18, 22, 28], [266, 266, 260])
seg([19, 33], [288, 288], lw=1.1)
seg([26, 26], [288, 303], lw=1.1)
seg([23, 29], [303, 303])
ring(26, 333, 10)
ring(22, 331, 1, fc=TXT)
ring(30, 331, 1, fc=TXT)
ui.add_patch(Arc((26, 335), 10, 8, theta1=20, theta2=160, ec=TXT, lw=0.9, zorder=3))
ui.add_patch(Polygon([[16, 387], [31, 372], [37, 378], [22, 393]], closed=True, fc='white', ec=TXT, lw=0.9, zorder=3))
ring(25, 420, 7.5)
seg([30, 36], [426, 432])
seg([21, 29], [420, 420])
seg([25, 25], [416, 424])
ui.add_patch(Arc((26, 472), 16, 18, theta1=0, theta2=180, ec=TXT, lw=1, zorder=3))
ui.add_patch(Arc((26, 472), 8, 10, theta1=0, theta2=180, ec=TXT, lw=1, zorder=3))
seg([18, 18, 22, 22], [472, 465, 465, 472])
seg([30, 30, 34, 34], [472, 465, 465, 472])
seg([17, 28, 24, 17, 17], [518, 505, 502, 514, 518])
rect(28, 513, 36, 520, 'white', TXT, 0.9)
ui.add_patch(Arc((32, 513), 5, 6, theta1=180, theta2=360, ec=TXT, lw=0.9, zorder=3))
rect(19, 549, 33, 558, 'white', TXT, 0.9)
ui.add_patch(Arc((26, 545), 9, 11, theta1=180, theta2=310, ec=TXT, lw=0.9, zorder=3))
ui.add_patch(Arc((26, 587), 23, 15, theta1=0, theta2=360, ec=TXT, lw=0.9, zorder=3))
ring(26, 587, 3.2)
seg([20, 28], [631, 621], lw=3.4, c=TXT)
seg([20, 28], [631, 621], lw=2.2, c='white', z=4)
seg([24, 32], [629, 619], lw=3.4, c=TXT)
seg([24, 32], [629, 619], lw=2.2, c='white', z=4)
seg([23, 29], [628, 622], z=5)
for yy in (358, 447, 650):
    seg([9, 44], [yy, yy], LINE, 1)
seg([18, 35], [668, 668])
ui.add_patch(Polygon([[20, 668], [21, 685], [32, 685], [33, 668]], closed=True, fc='white', ec=TXT, lw=0.9, zorder=3))
seg([23, 23, 30, 30], [668, 666, 666, 668])
rect(9, 1024, 43, 1058, '#2e2e2e', r=5)
txt(26, 1041, '\u2606', 17, 'white')

# right toolbar
ui.add_patch(Polygon([[1048, 56], [1068, 56], [1068, 77], [1058, 73], [1048, 77]], closed=True, fc='white', ec=TXT, lw=0.9, zorder=3))
for yy in (61, 65, 69):
    seg([1051, 1065], [yy, yy])
ring(1058, 112, 10)
seg([1058, 1058, 1053], [106, 113, 113])
seg([1048, 1052], [104, 100])
seg([1064, 1068], [100, 104])
ui.add_patch(Polygon([[1058, 149], [1071, 156], [1058, 163], [1045, 156]], closed=True, fc='white', ec=TXT, lw=0.9, zorder=3))
seg([1045, 1058, 1071], [161, 168, 161])
rect(1047, 194, 1070, 212, 'white', TXT, 0.9, r=2)
ui.add_patch(Polygon([[1052, 212], [1052, 218], [1058, 212]], closed=True, fc='white', ec=TXT, lw=0.9, zorder=4))
ring(1068, 193, 7.5, '#f23645', '#f23645', z=6)
txt(1068, 192.5, '1', 8.5, 'white', z=7)
ring(1058, 773, 13)
ring(1058, 773, 7)
ring(1058, 773, 2, fc=TXT)
seg([1058, 1066], [773, 765])
seg([1046, 1053], [828, 817])
seg([1070, 1063], [828, 817])
seg([1046, 1070], [828, 828])
seg([1049, 1058, 1067, 1058, 1049], [813, 819, 813, 805, 813], z=4)
rect(1047, 851, 1069, 872, 'white', TXT, 0.9, r=2)
seg([1047, 1069], [856, 856])
rect(1051, 848, 1054, 855, 'white', TXT, 0.8, r=0.5, z=4)
rect(1062, 848, 1065, 855, 'white', TXT, 0.8, r=0.5, z=4)
ring(1049, 914, 1.6)
ui.add_patch(Arc((1048, 916), 16, 16, theta1=270, theta2=360, ec=TXT, lw=0.9, zorder=3))
ui.add_patch(Arc((1048, 916), 26, 26, theta1=270, theta2=360, ec=TXT, lw=0.9, zorder=3))
ui.add_patch(Arc((1048, 916), 37, 37, theta1=270, theta2=360, ec=TXT, lw=0.9, zorder=3))
rect(1047, 888, 1075, 904, '#f23645', r=8, z=6)
txt(1061, 896, '99+', 8.5, 'white', z=7)
ui.add_patch(Polygon([[1049, 959], [1049, 950], [1052, 943], [1064, 943], [1067, 950], [1067, 959]], closed=True, fc='white', ec=TXT, lw=0.9, zorder=3))
rect(1046, 959, 1070, 963, 'white', TXT, 0.9, r=2)
ui.add_patch(Arc((1058, 964), 8, 6, theta1=0, theta2=180, ec=TXT, lw=0.9, zorder=3))
rect(1054, 934, 1076, 950, '#f23645', r=8, z=6)
txt(1065, 942, '59', 8.5, 'white', z=7)
ring(1058, 998, 16.5, '#2e2e2e', '#2e2e2e')
for gx in (1051, 1058, 1065):
    for gy in (991, 998, 1005):
        rect(gx-2.3, gy-2.3, gx+2.3, gy+2.3, 'white', r=0.8, z=4)
seg([1041, 1074], [1028, 1028], LINE, 1)
ring(1058, 1056, 13.5)
txt(1058, 1056, '?', 13, TXT)

# time bar
for xx, lab in zip([79, 109, 140, 172, 204, 238, 272, 300, 328],
                   ['1D', '5D', '1M', '3M', '6M', 'YTD', '1Y', '5Y', 'All']):
    txt(xx, 1061, lab, 10.5, '#2a2e39')
seg([347, 347], [1050, 1072], LINE, 1)
seg([363, 363, 379, 379, 372], [1060, 1054, 1054, 1069, 1069])
seg([363, 379], [1058, 1058])
seg([363, 372], [1065, 1065])
seg([369, 372, 369], [1062, 1065, 1068])
txt(975, 1061, '12:53:18 UTC+8', 10.5, '#2a2e39', ha='right')
seg([984, 984], [1050, 1072], LINE, 1)
txt(1008, 1061, 'ADJ', 10.5, '#2a2e39')
ui.add_patch(Polygon([[986, 1027], [989.5, 1021], [996.5, 1021], [1000, 1027], [996.5, 1033], [989.5, 1033]], closed=True, fc='white', ec=TXT, lw=0.9, zorder=3))
ring(993, 1027, 2.2)

fig.savefig('out.png', dpi=100)
